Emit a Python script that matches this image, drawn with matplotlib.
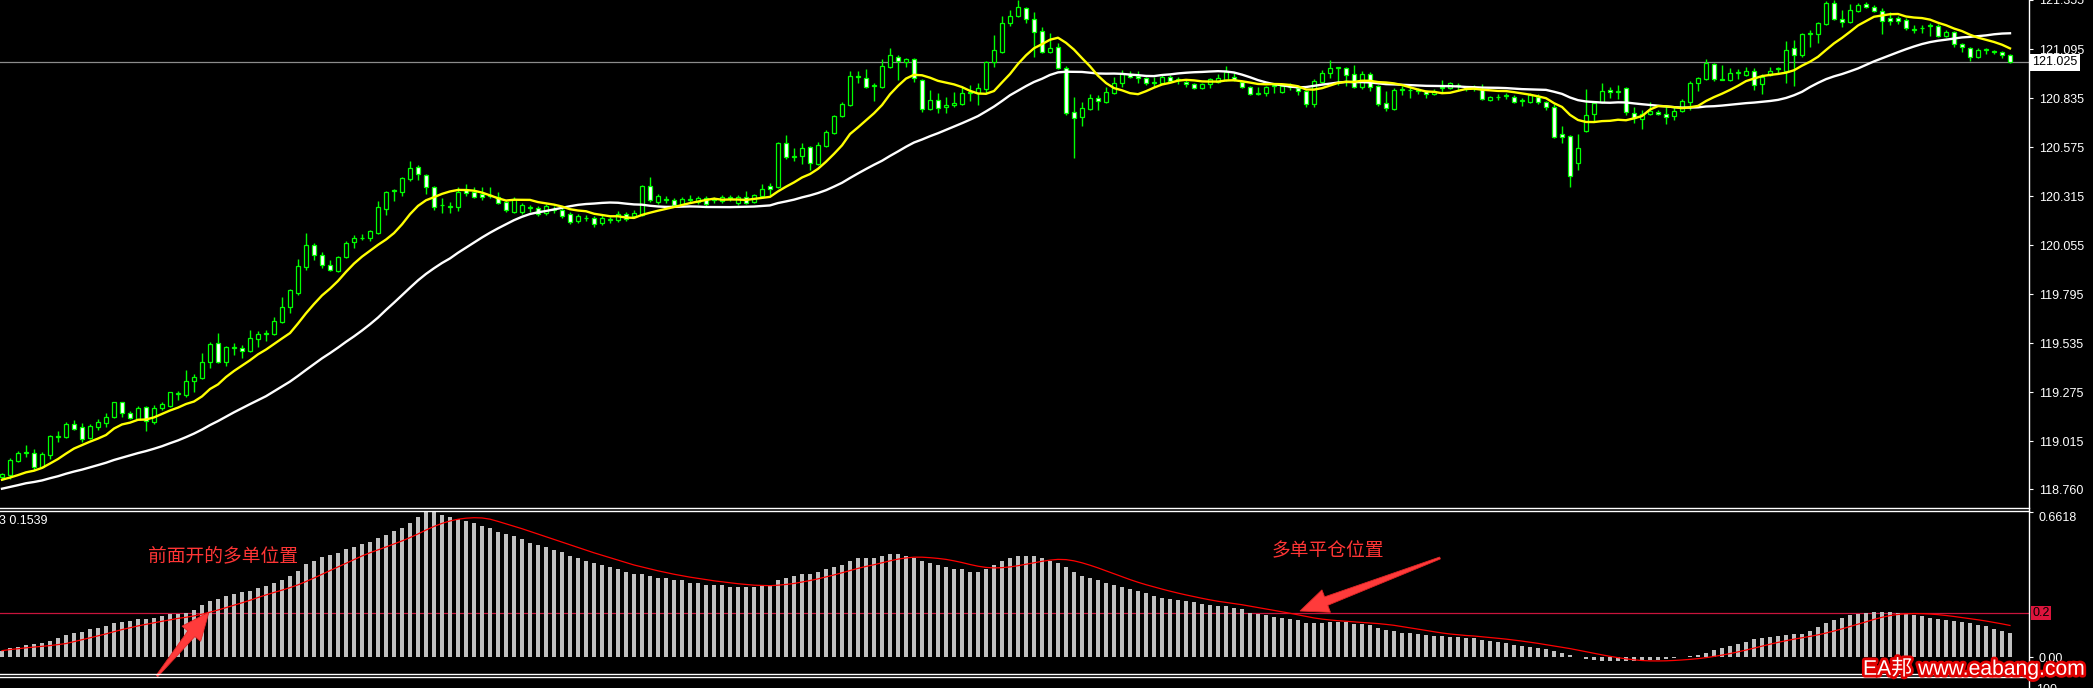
import matplotlib
matplotlib.use('Agg')
import matplotlib.pyplot as plt
import matplotlib.patheffects as pe
from matplotlib.patches import Polygon
from matplotlib.transforms import blended_transform_factory
import numpy as np
import pandas as pd

plt.rcParams['font.family'] = ['Liberation Sans', 'Noto Sans CJK SC', 'DejaVu Sans']

# ---- price data (one candle per bar, oldest first) ----
open_ = [
    118.825, 118.835, 118.909, 118.952, 118.952, 118.878, 118.941, 119.037, 119.037, 119.106,
    119.090, 119.031, 119.090, 119.111, 119.143, 119.222, 119.164, 119.132, 119.196, 119.116,
    119.191, 119.201, 119.265, 119.260, 119.334, 119.350, 119.435, 119.535, 119.435, 119.509,
    119.509, 119.493, 119.557, 119.583, 119.583, 119.647, 119.726, 119.801, 119.939, 120.055,
    120.002, 119.949, 119.917, 119.992, 120.071, 120.092, 120.092, 120.119, 120.246, 120.342,
    120.336, 120.405, 120.469, 120.427, 120.363, 120.267, 120.257, 120.257, 120.347, 120.336,
    120.326, 120.315, 120.310, 120.283, 120.230, 120.230, 120.252, 120.252, 120.225, 120.241,
    120.241, 120.220, 120.183, 120.198, 120.198, 120.172, 120.188, 120.188, 120.220, 120.209,
    120.214, 120.368, 120.283, 120.294, 120.294, 120.273, 120.294, 120.283, 120.305, 120.294,
    120.289, 120.305, 120.278, 120.310, 120.283, 120.315, 120.368, 120.363, 120.596, 120.522,
    120.527, 120.575, 120.485, 120.580, 120.649, 120.740, 120.798, 120.947, 120.941, 120.899,
    120.893, 121.000, 121.053, 121.026, 121.042, 120.931, 120.777, 120.825, 120.787, 120.798,
    120.803, 120.862, 120.862, 120.883, 121.026, 121.079, 121.233, 121.270, 121.313, 121.254,
    121.190, 121.079, 121.106, 120.994, 120.761, 120.734, 120.777, 120.835, 120.814, 120.862,
    120.915, 120.962, 120.952, 120.941, 120.915, 120.915, 120.947, 120.931, 120.920, 120.909,
    120.888, 120.909, 120.920, 120.931, 120.947, 120.920, 120.893, 120.856, 120.862, 120.899,
    120.867, 120.893, 120.888, 120.872, 120.803, 120.920, 120.968, 120.994, 120.994, 120.962,
    120.893, 120.962, 120.899, 120.809, 120.777, 120.878, 120.878, 120.872, 120.872, 120.856,
    120.888, 120.888, 120.899, 120.883, 120.888, 120.883, 120.825, 120.840, 120.846, 120.840,
    120.819, 120.814, 120.840, 120.814, 120.787, 120.644, 120.634, 120.490, 120.660, 120.750,
    120.814, 120.878, 120.867, 120.888, 120.756, 120.724, 120.750, 120.761, 120.750, 120.740,
    120.766, 120.814, 120.915, 120.936, 121.015, 120.934, 120.931, 120.968, 120.957, 120.978,
    120.909, 120.957, 120.989, 120.978, 121.100, 121.063, 121.175, 121.175, 121.228, 121.339,
    121.254, 121.238, 121.297, 121.334, 121.318, 121.297, 121.260, 121.260, 121.249, 121.196,
    121.206, 121.217, 121.217, 121.164, 121.185, 121.122, 121.100, 121.053, 121.090, 121.079,
    121.079, 121.063,
]
high = [
    118.846, 118.925, 118.962, 118.994, 118.973, 118.957, 119.047, 119.069, 119.116, 119.127,
    119.111, 119.106, 119.132, 119.164, 119.225, 119.225, 119.175, 119.201, 119.199, 119.206,
    119.222, 119.278, 119.280, 119.392, 119.371, 119.482, 119.541, 119.588, 119.520, 119.535,
    119.525, 119.604, 119.599, 119.604, 119.673, 119.779, 119.822, 119.981, 120.119, 120.066,
    120.018, 119.976, 119.997, 120.076, 120.108, 120.114, 120.135, 120.289, 120.342, 120.352,
    120.416, 120.501, 120.480, 120.432, 120.368, 120.305, 120.283, 120.363, 120.379, 120.363,
    120.363, 120.363, 120.336, 120.294, 120.310, 120.278, 120.270, 120.262, 120.273, 120.262,
    120.252, 120.230, 120.220, 120.214, 120.209, 120.214, 120.204, 120.236, 120.230, 120.241,
    120.374, 120.416, 120.326, 120.315, 120.305, 120.310, 120.321, 120.315, 120.315, 120.310,
    120.321, 120.321, 120.321, 120.342, 120.326, 120.379, 120.384, 120.602, 120.639, 120.570,
    120.596, 120.580, 120.602, 120.665, 120.745, 120.814, 120.978, 120.978, 120.989, 120.915,
    121.042, 121.100, 121.063, 121.047, 121.047, 120.936, 120.878, 120.862, 120.840, 120.867,
    120.893, 120.904, 120.915, 121.031, 121.169, 121.270, 121.302, 121.355, 121.318, 121.291,
    121.212, 121.180, 121.127, 121.005, 120.840, 120.814, 120.856, 120.851, 120.893, 120.947,
    120.984, 120.978, 120.978, 120.947, 120.947, 120.957, 120.957, 120.947, 120.936, 120.915,
    120.915, 120.941, 120.962, 121.005, 120.968, 120.925, 120.899, 120.893, 120.899, 120.915,
    120.904, 120.915, 120.893, 120.878, 120.936, 120.984, 121.037, 121.000, 121.000, 121.010,
    120.978, 120.973, 120.904, 120.872, 120.888, 120.899, 120.899, 120.888, 120.878, 120.883,
    120.931, 120.920, 120.915, 120.899, 120.904, 120.909, 120.846, 120.856, 120.862, 120.851,
    120.835, 120.862, 120.856, 120.819, 120.803, 120.687, 120.639, 120.644, 120.883, 120.814,
    120.915, 120.893, 120.904, 120.893, 120.787, 120.771, 120.814, 120.771, 120.787, 120.787,
    120.830, 120.925, 120.947, 121.042, 121.021, 121.010, 120.994, 120.989, 121.000, 120.994,
    120.962, 121.000, 121.000, 121.138, 121.143, 121.180, 121.196, 121.238, 121.350, 121.355,
    121.302, 121.334, 121.339, 121.344, 121.328, 121.313, 121.291, 121.270, 121.260, 121.222,
    121.222, 121.233, 121.228, 121.196, 121.190, 121.127, 121.106, 121.100, 121.100, 121.090,
    121.084, 121.069,
]
low = [
    118.809, 118.814, 118.904, 118.931, 118.862, 118.872, 118.920, 119.010, 119.031, 119.074,
    119.010, 119.026, 119.074, 119.090, 119.138, 119.143, 119.132, 119.127, 119.069, 119.106,
    119.180, 119.196, 119.233, 119.249, 119.275, 119.345, 119.403, 119.429, 119.413, 119.472,
    119.456, 119.488, 119.514, 119.546, 119.578, 119.642, 119.694, 119.790, 119.923, 119.976,
    119.933, 119.917, 119.912, 119.986, 120.039, 120.082, 120.076, 120.116, 120.214, 120.289,
    120.315, 120.395, 120.400, 120.326, 120.241, 120.225, 120.225, 120.236, 120.315, 120.305,
    120.294, 120.305, 120.273, 120.230, 120.225, 120.220, 120.230, 120.209, 120.214, 120.225,
    120.198, 120.167, 120.172, 120.183, 120.150, 120.161, 120.172, 120.177, 120.183, 120.198,
    120.209, 120.283, 120.273, 120.278, 120.257, 120.262, 120.278, 120.273, 120.262, 120.278,
    120.278, 120.289, 120.267, 120.273, 120.278, 120.310, 120.321, 120.358, 120.511, 120.501,
    120.485, 120.453, 120.480, 120.575, 120.644, 120.734, 120.793, 120.915, 120.888, 120.819,
    120.888, 120.994, 120.931, 121.000, 120.920, 120.761, 120.771, 120.756, 120.756, 120.787,
    120.798, 120.819, 120.798, 120.862, 121.000, 121.074, 121.217, 121.265, 121.233, 121.053,
    121.074, 121.074, 120.989, 120.745, 120.517, 120.687, 120.771, 120.771, 120.809, 120.856,
    120.893, 120.941, 120.915, 120.904, 120.893, 120.909, 120.920, 120.909, 120.893, 120.883,
    120.883, 120.888, 120.915, 120.925, 120.925, 120.888, 120.851, 120.851, 120.846, 120.862,
    120.862, 120.878, 120.851, 120.787, 120.787, 120.915, 120.941, 120.904, 120.899, 120.888,
    120.883, 120.872, 120.793, 120.766, 120.771, 120.851, 120.835, 120.856, 120.835, 120.851,
    120.862, 120.883, 120.878, 120.872, 120.872, 120.825, 120.819, 120.825, 120.830, 120.809,
    120.793, 120.809, 120.803, 120.771, 120.623, 120.596, 120.363, 120.453, 120.655, 120.713,
    120.809, 120.835, 120.830, 120.745, 120.703, 120.671, 120.745, 120.745, 120.697, 120.718,
    120.761, 120.771, 120.872, 120.931, 120.925, 120.928, 120.925, 120.936, 120.952, 120.878,
    120.856, 120.952, 120.968, 120.915, 120.899, 121.053, 121.106, 121.127, 121.222, 121.249,
    121.212, 121.233, 121.291, 121.313, 121.291, 121.175, 121.222, 121.228, 121.196, 121.180,
    121.180, 121.164, 121.159, 121.159, 121.106, 121.079, 121.031, 121.047, 121.069, 121.069,
    121.047, 121.021,
]
close = [
    118.840, 118.915, 118.952, 118.955, 118.878, 118.947, 119.042, 119.040, 119.106, 119.079,
    119.026, 119.095, 119.116, 119.143, 119.222, 119.164, 119.138, 119.191, 119.122, 119.191,
    119.212, 119.275, 119.268, 119.334, 119.355, 119.435, 119.530, 119.435, 119.514, 119.512,
    119.493, 119.562, 119.583, 119.586, 119.652, 119.726, 119.817, 119.944, 120.055, 120.002,
    119.949, 119.923, 119.992, 120.066, 120.092, 120.095, 120.130, 120.257, 120.336, 120.345,
    120.411, 120.464, 120.432, 120.363, 120.257, 120.270, 120.260, 120.336, 120.331, 120.310,
    120.310, 120.318, 120.278, 120.241, 120.299, 120.267, 120.255, 120.220, 120.262, 120.244,
    120.209, 120.177, 120.209, 120.201, 120.167, 120.198, 120.191, 120.220, 120.193, 120.225,
    120.368, 120.294, 120.315, 120.297, 120.267, 120.299, 120.297, 120.305, 120.273, 120.297,
    120.310, 120.308, 120.310, 120.278, 120.321, 120.352, 120.352, 120.596, 120.522, 120.525,
    120.570, 120.490, 120.586, 120.655, 120.740, 120.803, 120.952, 120.950, 120.893, 120.902,
    121.005, 121.063, 121.031, 121.042, 120.941, 120.777, 120.825, 120.782, 120.798, 120.809,
    120.862, 120.865, 120.888, 121.026, 121.090, 121.233, 121.270, 121.318, 121.254, 121.185,
    121.079, 121.100, 120.994, 120.756, 120.729, 120.782, 120.835, 120.819, 120.867, 120.915,
    120.962, 120.947, 120.941, 120.915, 120.918, 120.947, 120.925, 120.934, 120.909, 120.888,
    120.909, 120.936, 120.941, 120.973, 120.931, 120.893, 120.856, 120.859, 120.893, 120.902,
    120.899, 120.896, 120.872, 120.803, 120.925, 120.968, 120.994, 120.997, 120.957, 120.893,
    120.962, 120.893, 120.803, 120.782, 120.878, 120.881, 120.875, 120.875, 120.856, 120.872,
    120.891, 120.915, 120.902, 120.886, 120.891, 120.830, 120.840, 120.843, 120.849, 120.814,
    120.822, 120.851, 120.814, 120.787, 120.628, 120.628, 120.421, 120.570, 120.745, 120.809,
    120.872, 120.867, 120.870, 120.761, 120.729, 120.750, 120.766, 120.750, 120.734, 120.766,
    120.819, 120.915, 120.941, 121.021, 120.936, 120.931, 120.968, 120.971, 120.978, 120.904,
    120.947, 120.978, 120.992, 121.090, 121.063, 121.175, 121.178, 121.233, 121.339, 121.254,
    121.238, 121.302, 121.328, 121.318, 121.297, 121.244, 121.244, 121.244, 121.206, 121.199,
    121.209, 121.220, 121.164, 121.185, 121.122, 121.106, 121.053, 121.090, 121.093, 121.082,
    121.063, 121.025,
]
# closes of the 29 bars left of the window (needed for the moving averages)
closes_before = [
    118.64, 118.66, 118.65, 118.68, 118.70, 118.69, 118.72, 118.71, 118.73, 118.72,
    118.74, 118.75, 118.77, 118.78, 118.80, 118.79, 118.81, 118.80, 118.82, 118.81,
    118.80, 118.82, 118.81, 118.79, 118.80, 118.81, 118.80, 118.82, 118.81,
]

# ---- oscillator (sub window) ----
hist = [
    0.029, 0.039, 0.045, 0.055, 0.059, 0.064, 0.073, 0.088, 0.100, 0.109,
    0.115, 0.126, 0.133, 0.141, 0.155, 0.159, 0.165, 0.174, 0.174, 0.179,
    0.186, 0.197, 0.197, 0.201, 0.215, 0.236, 0.255, 0.264, 0.277, 0.286,
    0.295, 0.301, 0.314, 0.323, 0.336, 0.350, 0.368, 0.391, 0.423, 0.439,
    0.455, 0.464, 0.473, 0.491, 0.500, 0.514, 0.523, 0.541, 0.559, 0.577,
    0.590, 0.610, 0.640, 0.662, 0.660, 0.650, 0.640, 0.630, 0.620, 0.610,
    0.600, 0.590, 0.570, 0.560, 0.550, 0.540, 0.520, 0.510, 0.500, 0.490,
    0.480, 0.460, 0.450, 0.440, 0.430, 0.420, 0.410, 0.400, 0.390, 0.380,
    0.380, 0.370, 0.360, 0.360, 0.350, 0.350, 0.340, 0.340, 0.330, 0.330,
    0.330, 0.320, 0.320, 0.320, 0.320, 0.330, 0.330, 0.350, 0.360, 0.370,
    0.380, 0.380, 0.390, 0.400, 0.410, 0.420, 0.440, 0.450, 0.450, 0.450,
    0.460, 0.470, 0.470, 0.460, 0.450, 0.440, 0.430, 0.420, 0.410, 0.400,
    0.400, 0.390, 0.390, 0.400, 0.420, 0.440, 0.450, 0.460, 0.460, 0.460,
    0.450, 0.440, 0.430, 0.410, 0.390, 0.370, 0.360, 0.350, 0.340, 0.330,
    0.320, 0.310, 0.300, 0.290, 0.280, 0.270, 0.265, 0.260, 0.255, 0.250,
    0.241, 0.236, 0.232, 0.232, 0.223, 0.218, 0.203, 0.197, 0.191, 0.183,
    0.177, 0.173, 0.168, 0.156, 0.156, 0.156, 0.161, 0.161, 0.161, 0.150,
    0.150, 0.145, 0.133, 0.123, 0.118, 0.109, 0.109, 0.105, 0.100, 0.095,
    0.095, 0.091, 0.091, 0.088, 0.088, 0.079, 0.073, 0.068, 0.062, 0.055,
    0.050, 0.045, 0.040, 0.035, 0.028, 0.020, 0.010, 0.000, -0.010, -0.015,
    -0.020, -0.020, -0.020, -0.020, -0.020, -0.020, -0.015, -0.012, -0.010, -0.005,
    0.000, 0.005, 0.010, 0.020, 0.030, 0.040, 0.050, 0.060, 0.070, 0.080,
    0.085, 0.090, 0.095, 0.100, 0.103, 0.105, 0.118, 0.135, 0.153, 0.168,
    0.180, 0.190, 0.195, 0.200, 0.205, 0.205, 0.205, 0.200, 0.195, 0.190,
    0.185, 0.180, 0.175, 0.170, 0.165, 0.160, 0.157, 0.146, 0.140, 0.128,
    0.120, 0.110,
]

price_ticks = [121.355, 121.095, 120.835, 120.575, 120.315, 120.055,
               119.795, 119.535, 119.275, 119.015, 118.760]
last_price = 121.025
level = 0.2
osc_max = 0.6618
osc_label = '3 0.1539'
note_open = '前面开的多单位置'
note_close = '多单平仓位置'
watermark = 'EA邦 www.eabang.com'

# ---- layout in screen pixels ----
W, H = 2093, 688
AXIS_X = 2029
GREEN = '#00ff00'

fig = plt.figure(figsize=(W / 100, H / 100), dpi=100, facecolor='black')


def px_rect(x0, y0, x1, y1):
    return [x0 / W, 1 - y1 / H, (x1 - x0) / W, (y1 - y0) / H]


n = len(close)
x = np.arange(n)
o, h, l, c = (np.array(v) for v in (open_, high, low, close))

ax = fig.add_axes(px_rect(0, 0, AXIS_X, 508))
ax.set_facecolor('black')
ax.set_xlim(-0.25, (AXIS_X - 2) / 8)
ax.set_ylim(121.355 - 508 / 188.5, 121.355)

ax.axhline(last_price, color='#8c8c8c', lw=0.9, zorder=1)
ax.vlines(x, l, h, color=GREEN, lw=1.0, zorder=2)
bull = c >= o
ax.bar(x, np.maximum(np.abs(c - o), 0.001), bottom=np.minimum(o, c), width=0.55,
       color=np.where(bull, 'black', 'white'), edgecolor=GREEN, linewidth=0.9, zorder=3)

all_close = pd.Series(np.r_[closes_before, c])
ma_fast = all_close.rolling(10).mean().values[-n:]
ma_slow = all_close.rolling(30).mean().values[-n:]
ax.plot(x, ma_slow, color='white', lw=1.7, zorder=4)
ax.plot(x, ma_fast, color='#ffff00', lw=1.7, zorder=5)

ax.yaxis.tick_right()
ax.set_yticks(price_ticks)
ax.set_yticklabels([f'{p:.3f}' for p in price_ticks])
ax.set_xticks([])
ax.tick_params(axis='y', colors='white', labelsize=9, length=3, width=0.8, pad=4)
for s in ax.spines.values():
    s.set_visible(False)
ax.text(1.0015, last_price, f'{last_price:.3f}', transform=blended_transform_factory(ax.transAxes, ax.transData),
        ha='left', va='center', fontsize=9, color='black', zorder=10,
        bbox=dict(boxstyle='square,pad=0.2', fc='white', ec='none'), clip_on=False)

# ---- sub window ----
ax2 = fig.add_axes(px_rect(0, 512, AXIS_X, 674))
ax2.set_facecolor('black')
ax2.set_xlim(ax.get_xlim())
ax2.set_ylim(-17 / 219.1, osc_max)
ax2.bar(x, hist, width=0.38, color='#c0c0c0', zorder=2)
signal = pd.Series(hist).rolling(9, min_periods=1).mean()
ax2.plot(x, signal, color='#ff0000', lw=0.9, zorder=3)
ax2.axhline(level, color='#c8143c', lw=0.9, zorder=1)
ax2.yaxis.tick_right()
ax2.set_yticks([0.0, osc_max])
ax2.set_yticklabels(['0.00', f'{osc_max:.4f}'])
ax2.get_yticklabels()[1].set_va('top')
ax2.set_xticks([])
ax2.tick_params(axis='y', colors='white', labelsize=9, length=3, width=0.8, pad=4)
for s in ax2.spines.values():
    s.set_visible(False)
ax2.text(1.0015, level, '0.2', transform=blended_transform_factory(ax2.transAxes, ax2.transData),
         ha='left', va='center', fontsize=9, color='black', clip_on=False,
         bbox=dict(boxstyle='square,pad=0.1', fc='#dc143c', ec='none'))

# ---- overlay in pixel coordinates: frame, notes, arrows, watermark ----
ov = fig.add_axes([0, 0, 1, 1], zorder=20)
ov.set_xlim(0, W)
ov.set_ylim(H, 0)
ov.axis('off')
ov.patch.set_visible(False)

ov.plot([AXIS_X, AXIS_X], [0, H], color='white', lw=1)
for yy in (508, 511, 674, 677):
    ov.plot([0, AXIS_X], [yy, yy], color='white', lw=1)
ov.text(-1, 521, osc_label, color='white', fontsize=9, va='center', ha='left')
ov.text(2036, 690, '100', color='white', fontsize=9, va='center', ha='left')

cjk = ['Noto Sans CJK SC', 'DejaVu Sans']
ov.text(148, 556, note_open, color='#ff3535', fontsize=13.5, family=cjk, va='center', ha='left')
ov.text(1272, 551, note_close, color='#ff3535', fontsize=13.5, family=cjk, va='center', ha='left')


def arrow(tail, tip, w_tail=2.0, w_neck=9.0, head_len=28.0, head_w=24.0):
    t = np.array(tail, float)
    p = np.array(tip, float)
    d = (p - t) / np.hypot(*(p - t))
    nv = np.array([-d[1], d[0]])
    b = p - d * head_len
    pts = [t + nv * w_tail / 2, b + nv * w_neck / 2, b + nv * head_w / 2, p,
           b - nv * head_w / 2, b - nv * w_neck / 2, t - nv * w_tail / 2]
    ov.add_patch(Polygon(pts, closed=True, fc='#ff3b3b', ec='#e42525', lw=0.6))


arrow((157, 676), (209, 612))
arrow((1440, 558), (1300, 611))

ov.text(1863, 668, watermark, color='white', fontsize=15.2,
        family=['Liberation Sans', 'Noto Sans CJK SC'], va='center', ha='left',
        path_effects=[pe.withStroke(linewidth=4, foreground='#e00000')])

fig.savefig('out.png', dpi=100, facecolor='black')
